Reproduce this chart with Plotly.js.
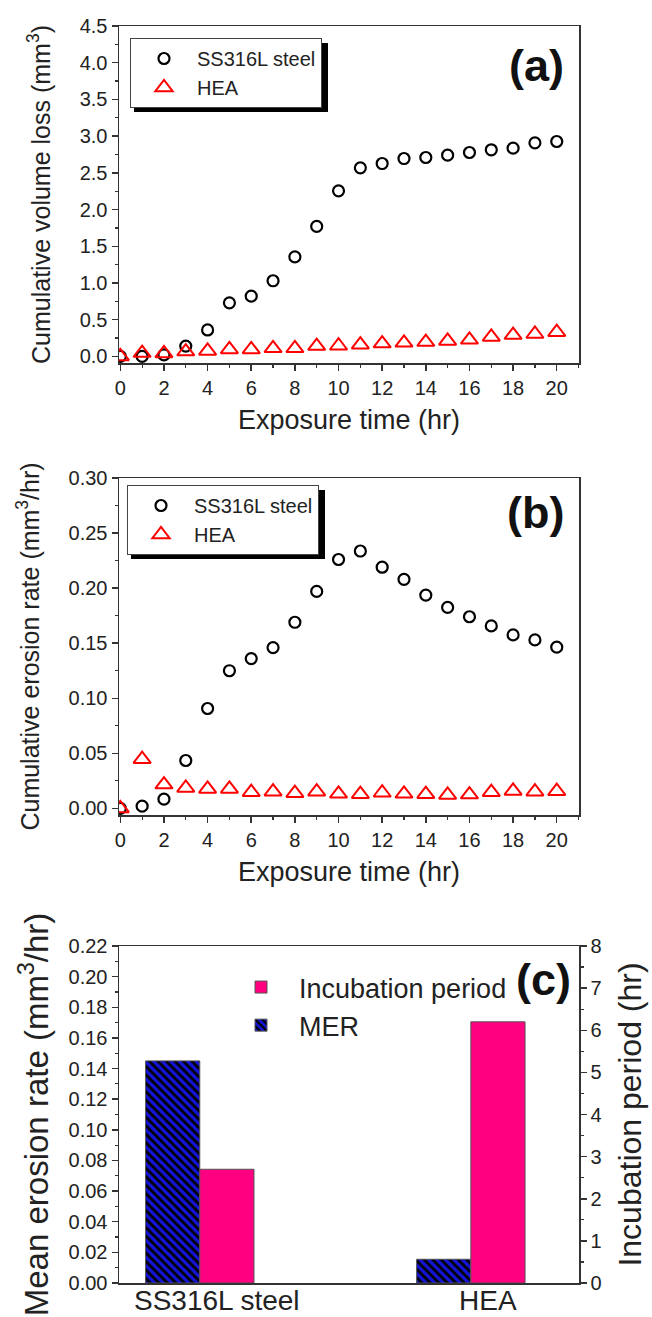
<!DOCTYPE html>
<html>
<head>
<meta charset="utf-8">
<script src="https://cdn.plot.ly/plotly-3.0.1.min.js"></script>
<style>html,body{margin:0;padding:0;background:#fff;}#chart{width:652px;height:1317px;}</style>
</head>
<body>
<div id="chart"></div>
<script>
// ---------- data ----------
const exposureTime = [0,1,2,3,4,5,6,7,8,9,10,11,12,13,14,15,16,17,18,19,20];
const ssVolumeLoss = [0,0.0,0.02,0.14,0.36,0.73,0.82,1.03,1.355,1.77,2.255,2.568,2.627,2.695,2.709,2.741,2.777,2.814,2.836,2.909,2.927];
const heaVolumeLoss = [0,0.045,0.04,0.065,0.075,0.095,0.095,0.11,0.11,0.14,0.145,0.16,0.175,0.185,0.195,0.21,0.225,0.265,0.29,0.305,0.33];
const ssErosionRate = [0,0.002,0.0084,0.0435,0.0907,0.125,0.136,0.146,0.169,0.197,0.226,0.2337,0.219,0.208,0.1937,0.1825,0.174,0.1657,0.1575,0.153,0.1464];
const heaErosionRate = [0,0.0447,0.0216,0.0186,0.0177,0.0177,0.0147,0.0152,0.0138,0.0152,0.0132,0.0129,0.0142,0.0132,0.0129,0.0122,0.0126,0.0147,0.0159,0.0152,0.0156];
const materials = ['SS316L steel','HEA'];
const meanErosionRate = [0.145,0.0155];
const incubationPeriod = [2.7,6.2];
const seriesNames = {ss:'SS316L steel', hea:'HEA', mer:'MER', inc:'Incubation period'};

// ---------- style ----------
const FONT = 'Liberation Sans, Arial, Helvetica, sans-serif';
const INK = '#222';
const W = 652, H = 1317;
const ML = 119, MR = 73;
const PW = W - ML - MR;
const cy = v => 1 - v / H;        // paper y (t=b=0)
const pxp = v => (v - ML) / PW;   // paper x (plot-area relative)

const ssMarker = {symbol:'circle-open', size:11, color:'#000', line:{color:'#000', width:2.2}};
const heaMarker = {symbol:'triangle-up-open', size:15, color:'#ff0000', line:{color:'#ff0000', width:2}};

const traces = [
  {type:'scatter', mode:'markers', x:exposureTime, y:ssVolumeLoss, name:seriesNames.ss, marker:ssMarker, xaxis:'x', yaxis:'y', legend:'legend'},
  {type:'scatter', mode:'markers', x:exposureTime, y:heaVolumeLoss, name:seriesNames.hea, marker:heaMarker, xaxis:'x', yaxis:'y', legend:'legend'},
  {type:'scatter', mode:'markers', x:exposureTime, y:ssErosionRate, name:seriesNames.ss, marker:ssMarker, xaxis:'x2', yaxis:'y2', legend:'legend2'},
  {type:'scatter', mode:'markers', x:exposureTime, y:heaErosionRate, name:seriesNames.hea, marker:heaMarker, xaxis:'x2', yaxis:'y2', legend:'legend2'},
  {type:'bar', x:materials, y:meanErosionRate, name:seriesNames.mer, xaxis:'x3', yaxis:'y3', legend:'legend3',
   offset:-0.2, width:0.2,
   marker:{color:'#1414d8', line:{color:'#555', width:1},
           pattern:{shape:'\\', fgcolor:'#000', bgcolor:'#1414d8', size:6, solidity:0.45}}},
  {type:'bar', x:materials, y:incubationPeriod, name:seriesNames.inc, xaxis:'x3', yaxis:'y4', legend:'legend3',
   offset:0, width:0.2,
   marker:{color:'#ff0080', line:{color:'#555', width:1}}}
];

const axisBase = () => ({
  showline:true, linecolor:'#333', linewidth:1.5, mirror:true,
  ticks:'outside', ticklen:6, tickwidth:1.5, tickcolor:'#333',
  showgrid:false, zeroline:false,
  tickfont:{family:FONT, size:20, color:INK}
});
const minorTicks = d => ({dtick:d, ticks:'outside', ticklen:3, tickwidth:1.2, tickcolor:'#333', showgrid:false});
const titleFont = s => ({family:FONT, size:s, color:INK});
const legendBox = (x, y) => ({xref:'paper', yref:'paper', x:pxp(x), y:cy(y), xanchor:'left', yanchor:'top',
  bgcolor:'#fff', bordercolor:'#444', borderwidth:1, font:{family:FONT, size:20, color:INK}, itemwidth:56, tracegroupgap:0});
const shadow = (x0, y0, x1, y1) => ({type:'rect', xref:'paper', yref:'paper', x0:pxp(x0), x1:pxp(x1), y0:cy(y1), y1:cy(y0),
  fillcolor:'#000', line:{width:0}, layer:'above'});
const panelLabel = (t, x, y) => ({text:'<b>' + t + '</b>', xref:'paper', yref:'paper', x:pxp(x), y:cy(y),
  xanchor:'center', yanchor:'middle', showarrow:false, font:{family:FONT, size:45, color:'#111'}});

const layout = {
  width:W, height:H,
  margin:{l:ML, r:MR, t:0, b:0},
  paper_bgcolor:'#fff', plot_bgcolor:'#fff',
  showlegend:true,
  font:{family:FONT, color:INK},
  xaxis: Object.assign(axisBase(), {anchor:'y', range:[-0.06,21.02], tick0:0, dtick:2, minor:minorTicks(1),
          title:{text:'Exposure time (hr)', font:titleFont(27), standoff:12}}),
  yaxis: Object.assign(axisBase(), {anchor:'x', domain:[cy(363), cy(26)], range:[-0.09,4.5], tick0:0, dtick:0.5, tickformat:'.1f', minor:minorTicks(0.25),
          title:{text:'Cumulative volume loss (mm<sup>3</sup>)', font:titleFont(25), standoff:22}}),
  xaxis2: Object.assign(axisBase(), {anchor:'y2', range:[-0.06,21.02], tick0:0, dtick:2, minor:minorTicks(1),
          title:{text:'Exposure time (hr)', font:titleFont(27), standoff:12}}),
  yaxis2: Object.assign(axisBase(), {anchor:'x2', domain:[cy(815), cy(478)], range:[-0.006,0.30], tick0:0, dtick:0.05, tickformat:'.2f', minor:minorTicks(0.025),
          title:{text:'Cumulative erosion rate (mm<sup>3</sup>/hr)', font:titleFont(25), standoff:22}}),
  xaxis3: Object.assign(axisBase(), {anchor:'y3', type:'category', categoryorder:'array', categoryarray:materials,
          range:[-0.298,1.399], ticks:'', ticklen:0, ticklabelshift:17, ticklabelstandoff:-8, tickfont:{family:FONT, size:28, color:INK}}),
  yaxis3: Object.assign(axisBase(), {anchor:'x3', mirror:false, domain:[cy(1283), cy(946)], range:[0,0.22], tick0:0, dtick:0.02, tickformat:'.2f', minor:minorTicks(0.01),
          title:{text:'Mean erosion rate (mm<sup>3</sup>/hr)', font:titleFont(33), standoff:10}}),
  yaxis4: Object.assign(axisBase(), {anchor:'x3', overlaying:'y3', side:'right', mirror:false, range:[0,8], tick0:0, dtick:1, minor:minorTicks(0.5),
          title:{text:'Incubation period (hr)', font:titleFont(32), standoff:18}}),
  legend: legendBox(130, 38),
  legend2: legendBox(127, 485),
  legend3:{xref:'paper', yref:'paper', x:pxp(223), y:cy(963), xanchor:'left', yanchor:'top', bgcolor:'rgba(0,0,0,0)', borderwidth:0,
           font:{family:FONT, size:27, color:INK}, itemwidth:66, traceorder:'reversed', tracegroupgap:0},
  shapes:[
    shadow(134, 43, 328, 112),
    shadow(131, 490, 325, 559)
  ],
  annotations:[
    panelLabel('(a)', 536, 65),
    panelLabel('(b)', 535, 513),
    panelLabel('(c)', 543, 979)
  ]
};

Plotly.newPlot('chart', traces, layout, {staticPlot:true, displayModeBar:false});
</script>
</body>
</html>
